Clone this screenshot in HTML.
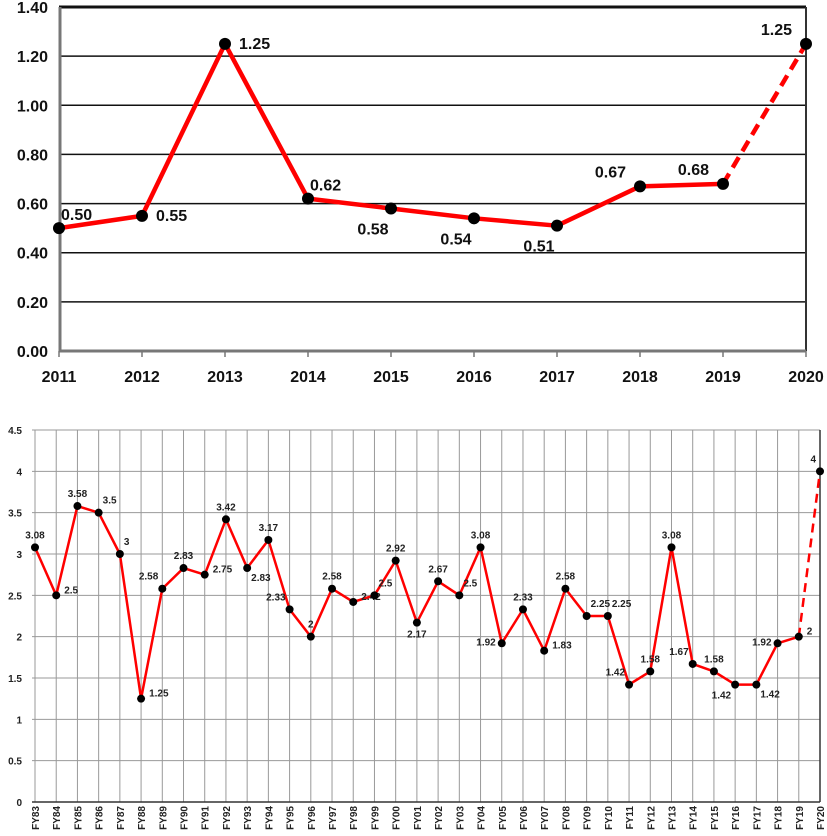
<!DOCTYPE html>
<html><head><meta charset="utf-8"><style>
html,body{margin:0;padding:0;background:#fff;}
svg{display:block;font-family:"Liberation Sans","DejaVu Sans",sans-serif;}
</style></head><body>
<svg id="chart" width="827" height="836" viewBox="0 0 827 836" xmlns="http://www.w3.org/2000/svg"></svg>
<script>
// Top chart data
const topYears = ["2011","2012","2013","2014","2015","2016","2017","2018","2019","2020"];
const topValues = [0.50,0.55,1.25,0.62,0.58,0.54,0.51,0.67,0.68,1.25];
const topLabels = ["0.50","0.55","1.25","0.62","0.58","0.54","0.51","0.67","0.68","1.25"];
const topTicks = ["0.00","0.20","0.40","0.60","0.80","1.00","1.20","1.40"];
const topTickVals = [0,0.2,0.4,0.6,0.8,1.0,1.2,1.4];
const topPlace = ["ur","r","r","ur","bl","bl","bl","ul","ul","ul"];
// Bottom chart data
const botCats = ["FY83","FY84","FY85","FY86","FY87","FY88","FY89","FY90","FY91","FY92","FY93","FY94","FY95","FY96","FY97","FY98","FY99","FY00","FY01","FY02","FY03","FY04","FY05","FY06","FY07","FY08","FY09","FY10","FY11","FY12","FY13","FY14","FY15","FY16","FY17","FY18","FY19","FY20"];
const botValues = [3.08,2.5,3.58,3.5,3,1.25,2.58,2.83,2.75,3.42,2.83,3.17,2.33,2,2.58,2.42,2.5,2.92,2.17,2.67,2.5,3.08,1.92,2.33,1.83,2.58,2.25,2.25,1.42,1.58,3.08,1.67,1.58,1.42,1.42,1.92,2,4];
const botLabels = ["3.08","2.5","3.58","3.5","3","1.25","2.58","2.83","2.75","3.42","2.83","3.17","2.33","2","2.58","2.42","2.5","2.92","2.17","2.67","2.5","3.08","1.92","2.33","1.83","2.58","2.25","2.25","1.42","1.58","3.08","1.67","1.58","1.42","1.42","1.92","2","4"];
const botTicks = ["0","0.5","1","1.5","2","2.5","3","3.5","4","4.5"];
const botTickVals = [0,0.5,1,1.5,2,2.5,3,3.5,4,4.5];
const botPlace = ["u","r","u","ur","ur","r","ul","u","r","u","br","u","ul","u","u","r","ur","u","b","u","ur","u","l","u","r","u","ur","ur","ul","u","u","ul","u","bl","br","l","r","ul"];

const svg = document.getElementById('chart');
const NS = "http://www.w3.org/2000/svg";
function mk(tag, attrs, parent){const e=document.createElementNS(NS,tag);for(const k in attrs)e.setAttribute(k,attrs[k]);(parent||svg).appendChild(e);return e;}

// ---------- TOP ----------
const tX0=59, tX1=806, tY0=351, tY1=7, tMax=1.4;
const tx = i => tX0 + i*(tX1-tX0)/(topYears.length-1);
const ty = v => tY0 - v/tMax*(tY0-tY1);
const gTop = mk('g',{});


topTickVals.forEach((v,i)=>{
  if(v>0){const l=mk('line',{x1:tX0,x2:tX1,y1:ty(v),y2:ty(v),stroke:'#111','stroke-width':v===tMax?3:1.5},gTop);
  }
  const t=mk('text',{x:48,y:ty(v)+6,'text-anchor':'end','font-size':16,'font-weight':'bold',fill:'#111'},gTop);
  t.textContent=topTicks[i];
});
let a=mk('line',{x1:tX0+1,x2:tX0+1,y1:tY1,y2:tY0+1,stroke:'#777','stroke-width':3},gTop);

a=mk('line',{x1:tX1,x2:tX1,y1:tY1,y2:tY0,stroke:'#333','stroke-width':2},gTop);

a=mk('line',{x1:tX0,x2:tX1,y1:tY0,y2:tY0,stroke:'#777','stroke-width':3},gTop);

topYears.forEach((y,i)=>{
  const k=mk('line',{x1:tx(i),x2:tx(i),y1:tY0,y2:tY0+6,stroke:'#777','stroke-width':1.5},gTop);
  
  const t=mk('text',{x:tx(i),y:382,'text-anchor':'middle','font-size':16,'font-weight':'bold',fill:'#111'},gTop);
  t.textContent=y;
});
const nT=topValues.length;
let d=topValues.slice(0,nT-1).map((v,i)=>(i?'L':'M')+tx(i)+','+ty(v)).join(' ');
let p=mk('path',{d:d,fill:'none',stroke:'#f00','stroke-width':4.5,'stroke-linejoin':'round'},gTop);

p=mk('path',{d:'M'+tx(nT-2)+','+ty(topValues[nT-2])+' L'+tx(nT-1)+','+ty(topValues[nT-1]),fill:'none',stroke:'#f00','stroke-width':4.5,'stroke-dasharray':'12,7'},gTop);

const tOff={ur:[2,-8,'start'],r:[14,5,'start'],bl:[-18,26,'middle'],ul:[-14,-9,'end'],u:[0,-10,'middle']};
topValues.forEach((v,i)=>{
  const c=mk('circle',{cx:tx(i),cy:ty(v),r:6,fill:'#000'},gTop);
  
  const o=tOff[topPlace[i]];
  const t=mk('text',{x:tx(i)+o[0],y:ty(v)+o[1],'text-anchor':o[2],'font-size':16,'font-weight':'bold',fill:'#111'},gTop);
  t.textContent=topLabels[i];
});

// ---------- BOTTOM ----------
const bX0=35, bX1=820, bY0=802, bY1=430, bMax=4.5;
const bx = i => bX0 + i*(bX1-bX0)/(botCats.length-1);
const by = v => bY0 - v/bMax*(bY0-bY1);
const gB = mk('g',{});


botCats.forEach((c,i)=>{
  const l=mk('line',{x1:bx(i),x2:bx(i),y1:bY1,y2:bY0,stroke:'#999','stroke-width':1},gB);
  
  const t=mk('text',{x:0,y:0,'text-anchor':'end','font-size':10,'font-weight':'bold',fill:'#222',transform:'translate('+(bx(i)+4)+','+(bY0+4)+') rotate(-90)'},gB);
  t.textContent=c;
});
botTickVals.forEach((v,i)=>{
  const l=mk('line',{x1:bX0-3,x2:bX1,y1:by(v),y2:by(v),stroke:v===0?'#333':'#999','stroke-width':v===0?1.5:1},gB);
  
  const t=mk('text',{x:22,y:by(v)+4,'text-anchor':'end','font-size':10,'font-weight':'bold',fill:'#222'},gB);
  t.textContent=botTicks[i];
});
a=mk('line',{x1:bX1,x2:bX1,y1:bY1,y2:bY0,stroke:'#333','stroke-width':1.5},gB);

const nB=botValues.length;
d=botValues.slice(0,nB-1).map((v,i)=>(i?'L':'M')+bx(i)+','+by(v)).join(' ');
p=mk('path',{d:d,fill:'none',stroke:'#f00','stroke-width':2.5,'stroke-linejoin':'round'},gB);

p=mk('path',{d:'M'+bx(nB-2)+','+by(botValues[nB-2])+' L'+bx(nB-1)+','+by(botValues[nB-1]),fill:'none',stroke:'#f00','stroke-width':2.5,'stroke-dasharray':'9,6'},gB);

const bOff={u:[0,-9,'middle'],r:[8,-2,'start'],ur:[4,-9,'start'],ul:[-4,-9,'end'],br:[4,13,'start'],bl:[-4,14,'end'],b:[0,15,'middle'],l:[-6,2,'end']};
botValues.forEach((v,i)=>{
  const c=mk('circle',{cx:bx(i),cy:by(v),r:4,fill:'#000'},gB);
  
  const o=bOff[botPlace[i]];
  const t=mk('text',{x:bx(i)+o[0],y:by(v)+o[1],'text-anchor':o[2],'font-size':10,'font-weight':'bold',fill:'#222'},gB);
  t.textContent=botLabels[i];
});
</script>
</body></html>
